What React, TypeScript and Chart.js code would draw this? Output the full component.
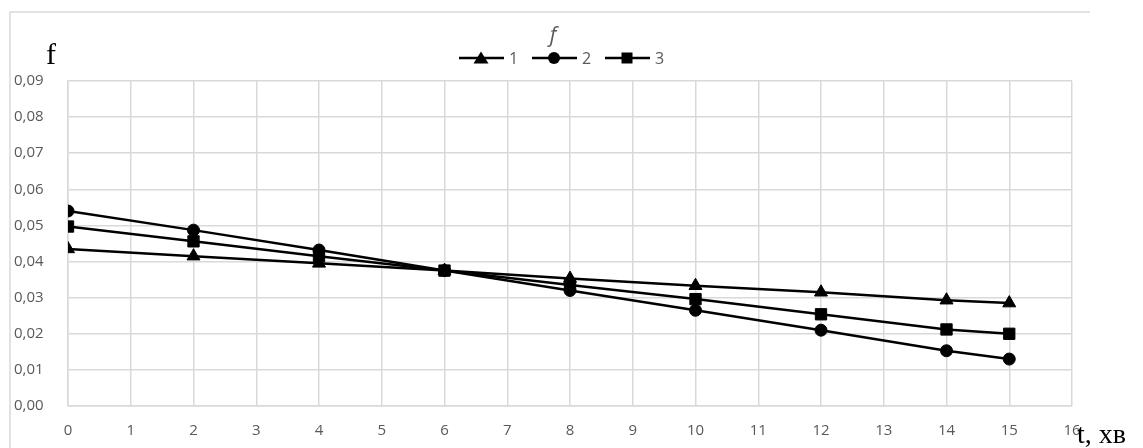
import React, { useEffect, useRef } from 'react';
import { Chart, registerables } from 'chart.js';

Chart.register(...registerables);

const tValues = [0, 2, 4, 6, 8, 10, 12, 14, 15];
const series1 = [0.0435, 0.0415, 0.0395, 0.0375, 0.0353, 0.0333, 0.0315, 0.0293, 0.0285];
const series2 = [0.054, 0.0487, 0.0432, 0.0375, 0.032, 0.0265, 0.021, 0.0153, 0.013];
const series3 = [0.0497, 0.0456, 0.0415, 0.0375, 0.0335, 0.0296, 0.0254, 0.0212, 0.02];
const seriesLabels = ['1', '2', '3'];
const seriesMarkers = ['triangle', 'circle', 'rect'];
const chartTitle = 'f';
const yAxisTitle = 'f';
const xAxisTitle = 't, хв';
const xMin = 0;
const xMax = 16;
const yMin = 0;
const yMax = 0.09;

const W = 1143;
const H = 448;
const GRID = '#d9d9d9';
const TEXT = '#595959';

function drawMarker(ctx: CanvasRenderingContext2D, kind: string, x: number, y: number) {
  ctx.save();
  ctx.fillStyle = '#000';
  ctx.beginPath();
  if (kind === 'triangle') {
    ctx.moveTo(x, y - 6.5);
    ctx.lineTo(x + 7.5, y + 5.5);
    ctx.lineTo(x - 7.5, y + 5.5);
    ctx.closePath();
  } else if (kind === 'circle') {
    ctx.arc(x, y, 6, 0, Math.PI * 2);
  } else {
    ctx.rect(x - 5.5, y - 5.5, 11, 11);
  }
  ctx.fill();
  ctx.restore();
}

const decorPlugin = {
  id: 'decor',
  beforeDraw(chart: any) {
    const ctx = chart.ctx as CanvasRenderingContext2D;
    ctx.save();
    ctx.strokeStyle = GRID;
    ctx.lineWidth = 1.5;
    ctx.beginPath();
    ctx.moveTo(1090, 12);
    ctx.lineTo(10, 12);
    ctx.lineTo(10, H);
    ctx.stroke();
    ctx.restore();
  },
  afterDraw(chart: any) {
    const ctx = chart.ctx as CanvasRenderingContext2D;
    ctx.save();
    // title
    ctx.fillStyle = TEXT;
    ctx.font = 'italic 21px "Open Sans"';
    ctx.textAlign = 'center';
    ctx.textBaseline = 'alphabetic';
    ctx.fillText(chartTitle, 553, 42);
    // legend
    const starts = [459, 532, 605];
    seriesLabels.forEach((lab, i) => {
      const x0 = starts[i];
      ctx.strokeStyle = '#000';
      ctx.lineWidth = 2.7;
      ctx.beginPath();
      ctx.moveTo(x0, 58);
      ctx.lineTo(x0 + 45, 58);
      ctx.stroke();
      drawMarker(ctx, seriesMarkers[i], x0 + 22, 58);
      ctx.fillStyle = TEXT;
      ctx.font = '16px "Open Sans"';
      ctx.textAlign = 'left';
      ctx.textBaseline = 'middle';
      ctx.fillText(lab, x0 + 50, 59);
    });
    // axis titles
    ctx.fillStyle = '#000';
    ctx.textAlign = 'left';
    ctx.textBaseline = 'alphabetic';
    ctx.font = '30px "Liberation Serif"';
    ctx.fillText(yAxisTitle, 46, 64);
    ctx.font = '28px "Liberation Serif"';
    ctx.fillText(xAxisTitle, 1077, 443);
    ctx.restore();
  },
};

export default function App() {
  const ref = useRef<HTMLCanvasElement | null>(null);
  useEffect(() => {
    if (!ref.current) return;
    const mk = (vals: number[]) => tValues.map((t, i) => ({ x: t, y: vals[i] }));
    const radii = [7.5, 6, 8];
    const chart = new Chart(ref.current, {
      type: 'line',
      data: {
        datasets: [series1, series2, series3].map((s, i) => ({
          label: seriesLabels[i],
          data: mk(s),
          borderColor: '#000',
          backgroundColor: '#000',
          borderWidth: 2.5,
          pointStyle: seriesMarkers[i] as any,
          pointRadius: radii[i],
          pointBackgroundColor: '#000',
          pointBorderColor: '#000',
          pointBorderWidth: 1,
          tension: 0,
        })),
      },
      options: {
        animation: false,
        responsive: false,
        devicePixelRatio: 1,
        layout: { padding: { left: 14, right: 71, top: 81, bottom: 0 } },
        plugins: { legend: { display: false }, title: { display: false }, tooltip: { enabled: false } },
        scales: {
          x: {
            type: 'linear',
            min: xMin,
            max: xMax,
            ticks: {
              stepSize: 1,
              color: TEXT,
              font: { family: 'Open Sans', size: 15 },
              padding: 16,
              maxRotation: 0,
            },
            grid: { color: GRID, lineWidth: 1.5, drawTicks: false },
            border: { color: GRID, width: 1.5 },
            afterFit: (s: any) => { s.height = 42; },
          },
          y: {
            type: 'linear',
            min: yMin,
            max: yMax,
            ticks: {
              stepSize: 0.01,
              color: TEXT,
              font: { family: 'Open Sans', size: 15 },
              crossAlign: 'far',
              callback: (v: any) => Number(v).toFixed(2).replace('.', ','),
            },
            grid: { color: GRID, lineWidth: 1.5, drawTicks: false },
            border: { color: GRID, width: 1.5 },
            afterFit: (s: any) => { s.width = 54; },
          },
        },
      },
      plugins: [decorPlugin],
    });
    return () => chart.destroy();
  }, []);
  return (
    <div style={{ position: 'absolute', left: 0, top: 0, width: W, height: H, background: '#fff' }}>
      <canvas ref={ref} width={W} height={H} style={{ width: W, height: H, display: 'block' }} />
    </div>
  );
}
